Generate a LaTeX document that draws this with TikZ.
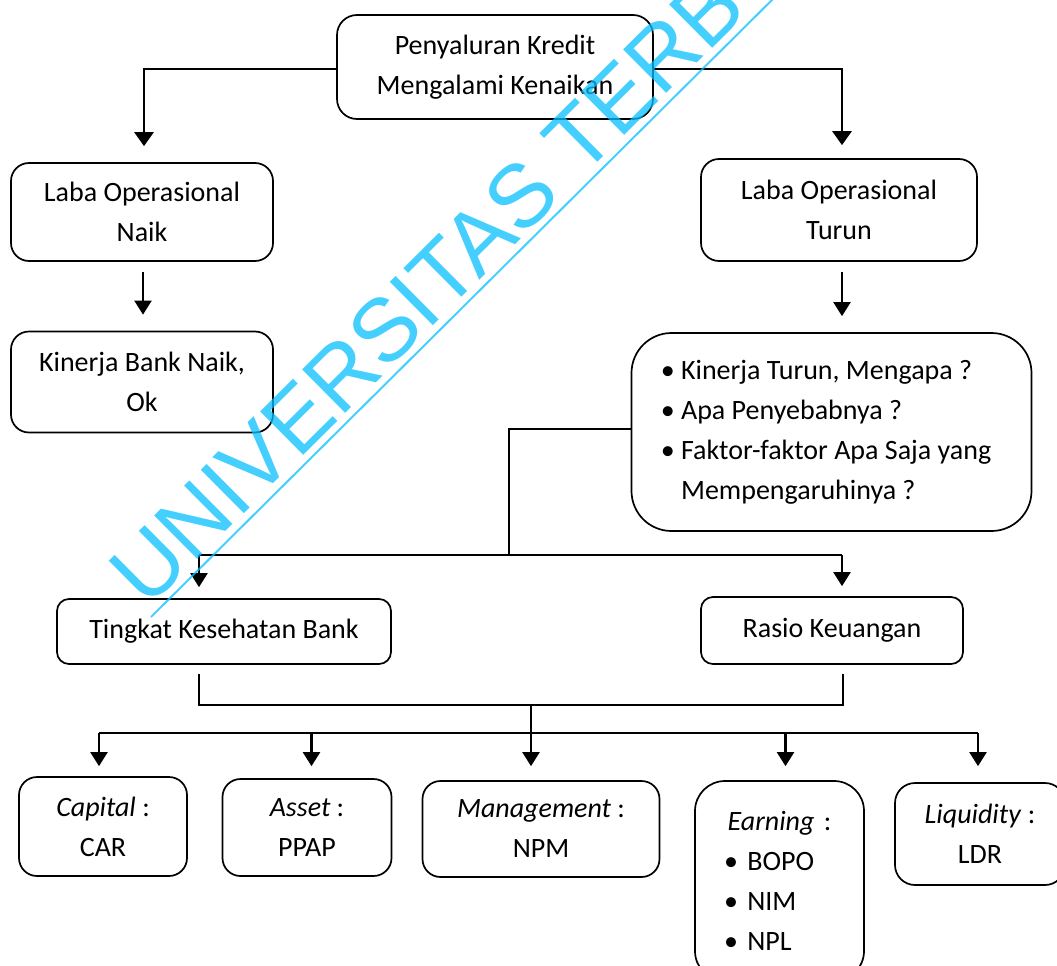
\documentclass[tikz,border=0pt]{standalone}
\usepackage{fontspec}
\setmainfont{Carlito}
\newfontfamily\wmfont{Liberation Sans}
\usetikzlibrary{arrows.meta,calc}
\definecolor{wmcyan}{RGB}{7,191,255}
\begin{document}
\begin{tikzpicture}[x=1pt,y=-1pt,
  box/.style={draw, line width=1.7pt, rounded corners=#1, align=center, inner sep=0pt, font=\fontsize{28}{40}\selectfont},
  box/.default=18pt,
  bar/.style={line width=2.8pt},
  arr/.style={line width=2.2pt, -{Triangle[length=14pt,width=17pt]}},
  thinln/.style={line width=1.6pt},
  wm/.style={text=wmcyan, opacity=0.75, font=\wmfont\fontsize{89}{89}\selectfont, inner sep=0pt}]
\useasboundingbox (0,0) rectangle (1057,966);
\begin{scope}
\clip (0,0) rectangle (1057,966);
% nodes
\node[box=20pt, minimum width=316pt, minimum height=104pt] (top) at (495,67) {Penyaluran Kredit\\Mengalami Kenaikan};
\node[box, minimum width=262pt, minimum height=98pt] (naik) at (142,212) {Laba Operasional\\Naik};
\node[box, minimum width=262pt, minimum height=101pt] (kin) at (142,382) {Kinerja Bank Naik,\\Ok};
\node[box, minimum width=276pt, minimum height=102pt] (turun) at (839,210) {Laba Operasional\\Turun};
\node[box=40pt, minimum width=400pt, minimum height=198pt, align=left] (big) at (831.5,432)
  {•~Kinerja Turun, Mengapa ?\\•~Apa Penyebabnya ?\\•~Faktor-faktor Apa Saja yang\rule{11pt}{0pt}\\\hphantom{•~}Mempengaruhinya ?};
\node[box=12pt, minimum width=334pt, minimum height=65pt] (ting) at (224,631.5) {Tingkat Kesehatan Bank};
\node[box=12pt, minimum width=262pt, minimum height=67pt] (rasio) at (832,630.5) {Rasio Keuangan};
\node[box, minimum width=168pt, minimum height=99pt] (cap) at (103,826.5) {\textit{Capital} :\\CAR};
\node[box, minimum width=169pt, minimum height=97pt] (asset) at (307,827.5) {\textit{Asset} :\\PPAP};
\node[box, minimum width=237pt, minimum height=96pt] (man) at (541,829) {\textit{Management} :\\NPM};
\node[box=30pt, minimum width=169pt, minimum height=200pt, text width=111pt, align=left] (earn) at (779.5,881)
  {\makebox[\linewidth]{\textit{Earning} :}\\•~BOPO\\•~NIM\\•~NPL};
\node[box=20pt, minimum width=170pt, minimum height=102pt] (liq) at (980,834) {\textit{Liquidity} :\\LDR};
% top connectors
\draw[bar, -{Triangle[length=14pt,width=19pt]}] ($(top.west)+(0,2)$) -| ($(naik.north)+(2,-16)$);
\draw[bar, -{Triangle[length=14pt,width=19pt]}] ($(top.east)+(0,2)$) -| ($(turun.north)+(3,-13)$);
\draw[arr] ($(naik.south)+(1,10)$) -- ($(kin.north)+(1,-16)$);
\draw[arr] ($(turun.south)+(3,10)$) -- ($(turun.south |- big.north)+(3,-16)$);
% from big box to junction bar
\coordinate (j1) at (509,555);
\coordinate (hL) at (199,555);
\coordinate (hR) at (842,555);
\draw[thinln] ($(big.west)+(0,-3)$) -| (j1);
\draw[bar] (hL) -- (hR);
\draw[arr] (hL) -- ($(ting.north)+(-25,-11)$);
\draw[arr] (hR) -- ($(rasio.north)+(10,-10)$);
% lower bracket
\coordinate (m1) at (531,705);
\draw[thinln] ($(ting.south)+(-25,9)$) |- (m1) -| ($(rasio.south)+(11,9)$);
\coordinate (b1) at (99,733);
\coordinate (b2) at (978,733);
\draw[bar] (b1) -- (b2);
\coordinate (tC) at ($(cap.north)+(-4,-10)$);
\coordinate (tA) at ($(asset.north)+(4.5,-12)$);
\coordinate (tM) at ($(man.north)+(-10,-14)$);
\coordinate (tE) at ($(earn.north)+(6,-14)$);
\coordinate (tL) at ($(liq.north)+(-2,-16)$);
\draw[arr] (tC |- b1) -- (tC);
\draw[arr] (tA |- b1) -- (tA);
\draw[arr] (m1) -- (tM);
\draw[arr] (tE |- b1) -- (tE);
\draw[arr] (tL |- b1) -- (tL);
% watermark
\node[wm, anchor=base west, rotate=44.8] (wmark) at (147,610) {UNIVERSITAS TERBUKA};
\draw[wmcyan, opacity=0.75, line width=2pt] (151,617) -- (782,-10);
\end{scope}
\end{tikzpicture}
\end{document}
